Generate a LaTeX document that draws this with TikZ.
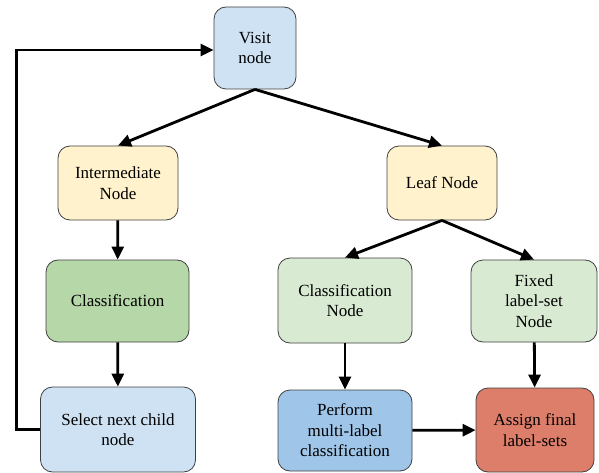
\documentclass[tikz,border=0pt]{standalone}
\usepackage{fontspec}
\setmainfont{Liberation Serif}
\newfontfamily\boxfont{Liberation Serif}
\usetikzlibrary{arrows.meta}
\definecolor{visitblue}{HTML}{CFE2F3}
\definecolor{nodeyellow}{HTML}{FFF2CC}
\definecolor{classgreen}{HTML}{B6D7A8}
\definecolor{lightgreen}{HTML}{D9EAD3}
\definecolor{midblue}{HTML}{9FC5E8}
\definecolor{assignred}{HTML}{DD7E6B}
\begin{document}
\begin{tikzpicture}[x=1pt, y=-1pt,
    box/.style={draw=black!75, line width=0.8pt, rounded corners=12pt, align=center,
        inner sep=0pt, font=\boxfont\fontsize{17}{20.5}\selectfont},
    flow/.style={line width=2.8pt, -{Triangle[length=13pt,width=12pt]}}]
    \useasboundingbox (0,0) rectangle (599,473);
    % top of the walk
    \node[box, fill=visitblue, minimum width=82pt, minimum height=82pt] (visit) at (255,48) {Visit\\node};
    \node[box, fill=nodeyellow, minimum width=120pt, minimum height=74pt] (inter) at (118,183) {Intermediate\\Node};
    \node[box, fill=nodeyellow, minimum width=110pt, minimum height=74pt] (leaf) at (442,183) {Leaf Node};
    % left branch
    \node[box, fill=classgreen, minimum width=143pt, minimum height=82pt] (clf) at (117.5,301) {Classification};
    \node[box, fill=visitblue, minimum width=155pt, minimum height=85pt] (select) at (118,429.5) {Select next child\\node};
    % right branch
    \node[box, fill=lightgreen, minimum width=134pt, minimum height=85pt] (clfnode) at (345,300.5) {Classification\\Node};
    \node[box, fill=lightgreen, minimum width=126pt, minimum height=82pt] (fixed) at (534,301) {Fixed\\label-set\\Node};
    \node[box, fill=midblue, minimum width=134pt, minimum height=81pt] (perform) at (345,430.5) {Perform\\multi-label\\classification};
    \node[box, fill=assignred, minimum width=118pt, minimum height=84pt] (assign) at (535,430) {Assign final\\label-sets};

    \draw[flow] (visit.south) -- (inter.north);
    \draw[flow] (visit.south) -- (leaf.north);
    \draw[flow] (inter) -- (clf);
    \draw[flow] (clf) -- (select);
    \draw[flow] (leaf.south) -- (clfnode.north);
    \draw[flow] (leaf.south) -- (fixed.north);
    \draw[flow] (clfnode) -- (perform);
    \draw[flow] (fixed) -- (assign);
    \draw[flow] (perform) -- (assign);
    % back to the next node
    \draw[flow] (select.west) -- ++(-24,0) |- ([yshift=-2pt]visit.west);
\end{tikzpicture}
\end{document}
